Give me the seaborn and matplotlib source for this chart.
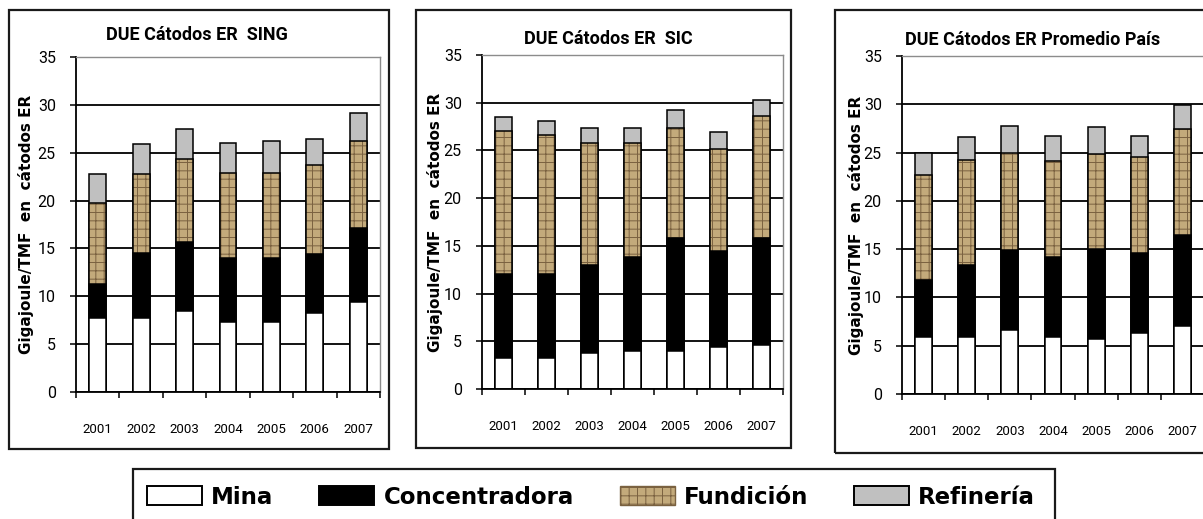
import numpy as np
import pandas as pd
import matplotlib
matplotlib.use("Agg")
import matplotlib.pyplot as plt
from matplotlib.patches import Rectangle, Patch
import seaborn as sns

# ---- data -------------------------------------------------------------
years = ["2001", "2002", "2003", "2004", "2005", "2006", "2007"]
components = ["Mina", "Concentradora", "Fundición", "Refinería"]

sing_mina = [7.7, 7.7, 8.5, 7.3, 7.3, 8.3, 9.4]
sing_conc = [3.6, 6.8, 7.2, 6.7, 6.7, 6.1, 7.7]
sing_fund = [8.4, 8.3, 8.6, 8.9, 8.9, 9.3, 9.1]
sing_ref = [3.1, 3.1, 3.2, 3.1, 3.3, 2.7, 2.9]

sic_mina = [3.3, 3.3, 3.8, 4.0, 4.0, 4.4, 4.6]
sic_conc = [8.8, 8.8, 9.2, 9.8, 11.8, 10.1, 11.2]
sic_fund = [14.9, 14.5, 12.8, 12.0, 11.5, 10.7, 12.8]
sic_ref = [1.5, 1.5, 1.5, 1.5, 1.9, 1.7, 1.7]

pais_mina = [5.9, 5.9, 6.6, 5.9, 5.7, 6.3, 7.0]
pais_conc = [5.9, 7.5, 8.3, 8.3, 9.3, 8.3, 9.5]
pais_fund = [10.9, 10.8, 10.1, 9.9, 9.9, 9.9, 10.9]
pais_ref = [2.3, 2.4, 2.7, 2.6, 2.7, 2.2, 2.5]

titles = ["DUE Cátodos ER  SING", "DUE Cátodos ER  SIC", "DUE Cátodos ER Promedio País"]
y_label = "Gigajoule/TMF  en  cátodos ER"

# ---- style ------------------------------------------------------------
sns.set_theme(style="white")
plt.rcParams["font.family"] = ["DejaVu Sans"]
for key in ("text.color", "axes.labelcolor", "xtick.color", "ytick.color"):
    plt.rcParams[key] = "black"
plt.rcParams["hatch.linewidth"] = 0.7
TICKFONT = ["Roboto", "DejaVu Sans"]
TITLEFONT = ["Roboto", "DejaVu Sans"]

C_MINA = "#ffffff"
C_CONC = "#000000"
C_FUND = "#c3aa7b"
C_FUND_HATCH = "#7a6140"
C_REF = "#c0c0c0"

W, H = 1203, 519


def fig_box(l, t, r, b):
    return [l / W, 1 - b / H, (r - l) / W, (b - t) / H]


def frame(fig, l, t, r, b, lw=1.6):
    fig.add_artist(Rectangle((l / W, 1 - b / H), (r - l) / W, (b - t) / H,
                             transform=fig.transFigure, fill=False,
                             edgecolor="#1a1a1a", linewidth=lw, zorder=0))


def draw_panel(ax, mina, conc, fund, ref, title, title_xy, ylabel_x):
    df = pd.DataFrame({"year": years, "mina": mina, "conc": conc,
                       "fund": fund, "ref": ref})
    df["top_mina"] = df["mina"]
    df["top_conc"] = df["top_mina"] + df["conc"]
    df["top_fund"] = df["top_conc"] + df["fund"]
    df["top_ref"] = df["top_fund"] + df["ref"]

    common = dict(data=df, x="year", order=years, width=0.39, errorbar=None,
                  saturation=1, ax=ax)
    sns.barplot(y="top_ref", color=C_REF, edgecolor="black", linewidth=1.1, **common)
    sns.barplot(y="top_fund", color=C_FUND, edgecolor=C_FUND_HATCH,
                linewidth=0, hatch="++", **common)
    sns.barplot(y="top_fund", color="black", fill=False, linewidth=1.1, **common)
    sns.barplot(y="top_conc", color=C_CONC, edgecolor="black", linewidth=1.1, **common)
    sns.barplot(y="top_mina", color=C_MINA, edgecolor="black", linewidth=1.1, **common)

    ax.set_xlim(-0.5, 6.5)
    ax.set_ylim(0, 35)
    ax.set_yticks(range(0, 36, 5))
    ax.yaxis.grid(True, color="black", linewidth=1.3)
    ax.xaxis.grid(False)
    ax.set_axisbelow(True)

    for side in ("left", "bottom"):
        ax.spines[side].set_color("black")
        ax.spines[side].set_linewidth(1.3)
    for side in ("top", "right"):
        ax.spines[side].set_color("#8c8c8c")
        ax.spines[side].set_linewidth(1.0)

    ax.set_xticks(range(len(years)))
    ax.set_xticklabels(years, fontfamily=TICKFONT, fontsize=9.5)
    ax.set_xticks(np.arange(-0.5, len(years), 1.0), minor=True)
    ax.tick_params(axis="x", which="major", length=0, pad=22)
    ax.tick_params(axis="x", which="minor", length=4, width=1.1, color="black",
                   direction="out", bottom=True)
    ax.tick_params(axis="y", length=4, width=1.1, color="black", direction="out",
                   left=True, pad=10.5)
    for t in ax.get_yticklabels():
        t.set_fontfamily(TICKFONT)
        t.set_fontsize(11.5)

    ax.set_xlabel("")
    ax.set_ylabel(y_label, fontsize=11, fontweight="bold", va="center")
    ax.yaxis.set_label_coords(ylabel_x, 0.5)

    pos = ax.get_position()
    tx = (title_xy[0] / W - pos.x0) / pos.width
    ty = ((1 - title_xy[1] / H) - pos.y0) / pos.height
    ax.set_title(title, x=tx, y=ty, va="center", pad=0, fontfamily=TITLEFONT,
                 fontweight="bold", fontsize=13)


fig = plt.figure(figsize=(W / 100, H / 100), dpi=100)
fig.patch.set_facecolor("white")

# chart-area frames
frame(fig, 9, 10, 389, 449)
frame(fig, 416, 10, 791, 448)
frame(fig, 835, 10, 1215, 453)

panels = [
    (fig_box(76, 57, 380, 392), (sing_mina, sing_conc, sing_fund, sing_ref), (197, 35), 26),
    (fig_box(482, 55, 783, 389), (sic_mina, sic_conc, sic_fund, sic_ref), (608, 39), 435),
    (fig_box(902, 56, 1204, 394), (pais_mina, pais_conc, pais_fund, pais_ref), (1033, 40), 856),
]
for (rect, series, txy, ylx), title in zip(panels, titles):
    ax = fig.add_axes(rect)
    draw_panel(ax, *series, title, txy, (ylx - rect[0] * W) / (rect[2] * W))

# legend
frame(fig, 133, 469, 1055, 540)
fs = 16.5
fs_px = fs * 100 / 72
handles = [
    Patch(facecolor=C_MINA, edgecolor="black", linewidth=1.4),
    Patch(facecolor=C_CONC, edgecolor="black", linewidth=1.4),
    Patch(facecolor=C_FUND, edgecolor=C_FUND_HATCH, hatch="++", linewidth=1.0),
    Patch(facecolor=C_REF, edgecolor="black", linewidth=1.4),
]
fig.legend(handles, components, loc="center left",
           bbox_to_anchor=(147 / W, 1 - 497 / H), ncol=4, frameon=False,
           borderpad=0, borderaxespad=0, handlelength=55 / fs_px,
           handleheight=20 / fs_px, handletextpad=0.4, columnspacing=2.0,
           prop=dict(family="DejaVu Sans", weight="bold", size=fs))

fig.savefig("out.png", dpi=100, facecolor="white")
